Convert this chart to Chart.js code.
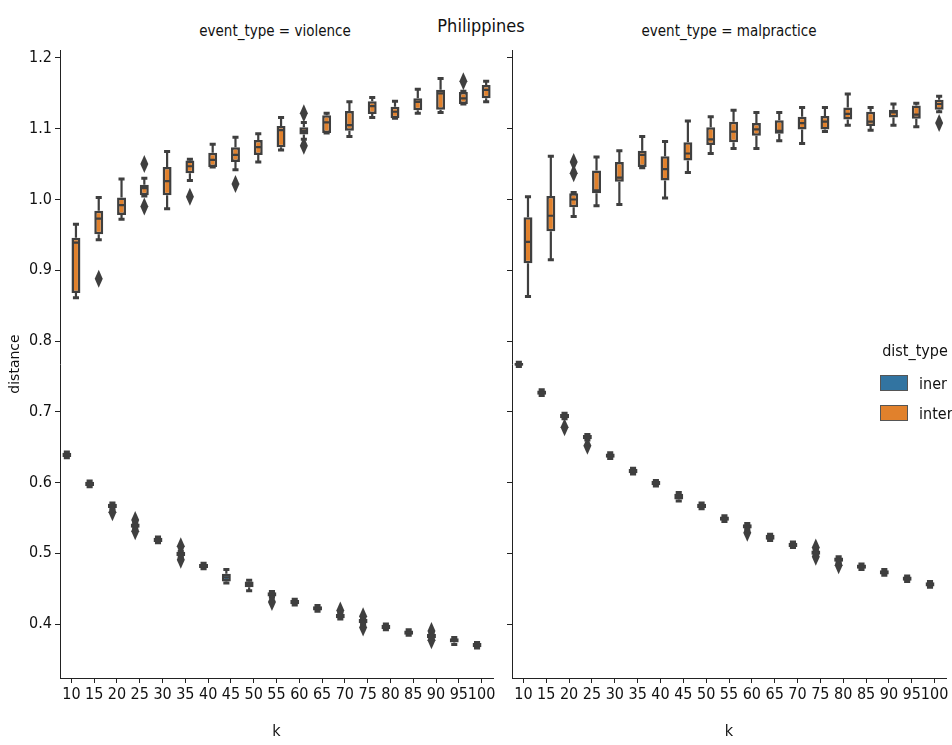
<!DOCTYPE html>
<html lang="en">
<head>
<meta charset="UTF-8">
<title>Philippines</title>
<script src="https://cdn.jsdelivr.net/npm/chart.js"></script>
<style>
  body {
    margin: 0;
    background: #fff;
    width: 952px;
    height: 745px;
    position: relative;
    overflow: hidden;
    font-family: "DejaVu Sans Condensed", "DejaVu Sans", sans-serif;
    color: #111;
  }
  canvas { position: absolute; top: 0; }
  #leftChart { left: 0; }
  #rightChart { left: 500px; }
  .txt { position: absolute; white-space: nowrap; transform: translate(-50%, -50%); }
  .patch { position: absolute; width: 26px; height: 14px; border: 1px solid #555; }
  .item { position: absolute; white-space: nowrap; transform: translateY(-50%); font-size: 16px; }
</style>
</head>
<body>
<div class="txt" style="left:481px; top:25px; font-size:18px;">Philippines</div>
<div class="txt" style="left:275px; top:31px; font-size:15px;">event_type = violence</div>
<div class="txt" style="left:729px; top:31px; font-size:15px;">event_type = malpractice</div>

<canvas id="leftChart" width="500" height="745"></canvas>
<canvas id="rightChart" width="452" height="745"></canvas>

<!-- legend -->
<div class="txt" style="left:915px; top:350px; font-size:16px;">dist_type</div>
<div class="patch" style="left:880px; top:375px; background:#3274a1;"></div>
<div class="item" style="left:919px; top:383px;">iner</div>
<div class="patch" style="left:880px; top:405px; background:#e1812c;"></div>
<div class="item" style="left:919px; top:413px;">inter</div>

<script>
// ---- data ----
const kLabels = ['10','15','20','25','30','35','40','45','50','55','60','65','70','75','80','85','90','95','100'];
const yTickValues = [0.4, 0.5, 0.6, 0.7, 0.8, 0.9, 1.0, 1.1, 1.2];

// violence, iner
const vInerLo  = [0.635,0.594,0.563,0.535,0.515,0.495,0.478,0.458,0.447,0.438,0.427,0.418,0.407,0.400,0.392,0.384,0.379,0.371,0.366];
const vInerQ1  = [0.636,0.595,0.564,0.536,0.516,0.496,0.479,0.460,0.452,0.439,0.428,0.419,0.408,0.401,0.393,0.385,0.380,0.374,0.367];
const vInerMed = [0.639,0.598,0.567,0.539,0.519,0.499,0.482,0.466,0.456,0.442,0.431,0.422,0.411,0.404,0.396,0.388,0.383,0.377,0.370];
const vInerQ3  = [0.642,0.601,0.570,0.542,0.522,0.502,0.485,0.471,0.460,0.445,0.434,0.425,0.414,0.407,0.399,0.391,0.386,0.380,0.373];
const vInerHi  = [0.643,0.602,0.571,0.543,0.523,0.503,0.486,0.477,0.462,0.446,0.435,0.426,0.415,0.408,0.400,0.392,0.387,0.381,0.374];
const vInerOut = [[],[],[0.558],[0.547,0.531],[],[0.510,0.491],[],[],[],[0.431],[],[],[0.419],[0.411,0.395],[],[],[0.390,0.377],[],[]];

// violence, inter
const vInterLo  = [0.861,0.943,0.972,1.005,0.987,1.027,1.046,1.042,1.053,1.070,1.085,1.094,1.089,1.116,1.115,1.122,1.123,1.135,1.138];
const vInterQ1  = [0.868,0.951,0.978,1.006,1.006,1.037,1.046,1.053,1.063,1.074,1.092,1.094,1.097,1.121,1.115,1.126,1.127,1.135,1.143];
const vInterMed = [0.939,0.973,0.992,1.016,1.026,1.047,1.056,1.063,1.074,1.098,1.097,1.109,1.105,1.132,1.124,1.138,1.150,1.143,1.155];
const vInterQ3  = [0.946,0.984,1.003,1.021,1.046,1.055,1.066,1.074,1.084,1.104,1.102,1.119,1.125,1.139,1.131,1.143,1.155,1.152,1.162];
const vInterHi  = [0.965,1.003,1.029,1.030,1.068,1.057,1.078,1.088,1.093,1.116,1.109,1.122,1.138,1.144,1.139,1.156,1.171,1.153,1.167];
const vInterOut = [[],[0.888],[],[1.050,0.990],[],[1.004],[],[1.022],[],[],[1.122,1.076],[],[],[],[],[],[],[1.167],[]];

// malpractice, iner
const mInerLo  = [0.764,0.723,0.690,0.660,0.634,0.612,0.595,0.574,0.563,0.545,0.534,0.518,0.508,0.497,0.487,0.477,0.469,0.460,0.452];
const mInerQ1  = [0.765,0.724,0.691,0.661,0.635,0.613,0.596,0.576,0.564,0.546,0.535,0.519,0.509,0.498,0.488,0.478,0.470,0.461,0.453];
const mInerMed = [0.767,0.727,0.694,0.664,0.638,0.616,0.599,0.580,0.567,0.549,0.538,0.522,0.512,0.501,0.491,0.481,0.473,0.464,0.456];
const mInerQ3  = [0.769,0.730,0.697,0.667,0.641,0.619,0.602,0.584,0.570,0.552,0.541,0.526,0.515,0.504,0.494,0.484,0.476,0.467,0.459];
const mInerHi  = [0.770,0.731,0.698,0.668,0.642,0.620,0.603,0.586,0.571,0.553,0.542,0.527,0.516,0.505,0.495,0.485,0.477,0.468,0.460];
const mInerOut = [[],[],[0.678],[0.652],[],[],[],[],[],[],[0.529],[],[],[0.508,0.495],[0.483],[],[],[],[]];

// malpractice, inter
const mInterLo  = [0.863,0.915,0.976,0.991,0.993,1.045,1.002,1.038,1.065,1.072,1.072,1.083,1.079,1.096,1.105,1.098,1.105,1.103,1.124];
const mInterQ1  = [0.910,0.955,0.989,1.009,1.025,1.046,1.027,1.055,1.077,1.081,1.090,1.093,1.099,1.099,1.113,1.104,1.116,1.114,1.127];
const mInterMed = [0.940,0.977,1.000,1.013,1.031,1.063,1.043,1.065,1.085,1.096,1.099,1.097,1.108,1.110,1.121,1.110,1.123,1.120,1.135];
const mInterQ3  = [0.975,1.005,1.009,1.041,1.053,1.069,1.061,1.081,1.102,1.110,1.108,1.112,1.117,1.118,1.130,1.124,1.127,1.133,1.141];
const mInterHi  = [1.004,1.061,1.010,1.060,1.069,1.089,1.082,1.111,1.117,1.126,1.123,1.123,1.130,1.130,1.149,1.130,1.135,1.136,1.146];
const mInterOut = [[],[],[1.053,1.037],[],[],[],[],[],[],[],[],[],[],[],[],[],[],[],[1.108]];

// ---- styling ----
const FONT = '"DejaVu Sans Condensed", "DejaVu Sans", sans-serif';
const LINE = '#3f3f3f';
const AXIS = '#222';
const BLUE = '#3274a1';
const ORANGE = '#e1812c';

function boxDataset(label, color, lo, q1, med, q3, hi, out) {
    return {
        label: label,
        data: q1.map((v, i) => [v, q3[i]]),
        backgroundColor: color,
        borderColor: LINE,
        borderWidth: 2.5,
        borderSkipped: false,
        categoryPercentage: 0.8,
        barPercentage: 0.98,
        lo: lo, med: med, hi: hi, out: out
    };
}

// draws whiskers, caps, medians and fliers on top of the bars
const boxParts = {
    id: 'boxParts',
    afterDatasetsDraw(chart) {
        const ctx = chart.ctx;
        const ys = chart.scales.y;
        const py = v => ys.getPixelForValue(v);
        ctx.save();
        ctx.strokeStyle = LINE;
        ctx.fillStyle = LINE;
        chart.data.datasets.forEach((ds, di) => {
            chart.getDatasetMeta(di).data.forEach((bar, i) => {
                const x = bar.x;
                const half = bar.width / 2;
                const cap = bar.width * 0.34;
                const yLo = py(ds.lo[i]), yHi = py(ds.hi[i]);
                const yQ1 = py(ds.data[i][0]), yQ3 = py(ds.data[i][1]);
                const yMed = py(ds.med[i]);

                ctx.lineWidth = 2.2;
                ctx.beginPath();
                ctx.moveTo(x, yQ3); ctx.lineTo(x, yHi);
                ctx.moveTo(x, yQ1); ctx.lineTo(x, yLo);
                ctx.moveTo(x - half + 1, yMed); ctx.lineTo(x + half - 1, yMed);
                ctx.stroke();

                ctx.lineWidth = 3;
                ctx.beginPath();
                ctx.moveTo(x - cap, yHi); ctx.lineTo(x + cap, yHi);
                ctx.moveTo(x - cap, yLo); ctx.lineTo(x + cap, yLo);
                ctx.stroke();

                ds.out[i].forEach(v => {
                    const yy = py(v);
                    ctx.beginPath();
                    ctx.moveTo(x, yy - 9);
                    ctx.lineTo(x + 4, yy);
                    ctx.lineTo(x, yy + 9);
                    ctx.lineTo(x - 4, yy);
                    ctx.closePath();
                    ctx.fill();
                });
            });
        });
        ctx.restore();
    }
};

function makeChart(id, datasets, showYLabels, yWidth, padRight) {
    return new Chart(document.getElementById(id), {
        type: 'bar',
        data: { labels: kLabels, datasets: datasets },
        options: {
            responsive: false,
            animation: false,
            layout: { padding: { left: 0, right: padRight, top: 50, bottom: 0 } },
            plugins: { legend: { display: false }, tooltip: { enabled: false }, title: { display: false } },
            scales: {
                x: {
                    type: 'category',
                    offset: true,
                    grid: { display: true, offset: false, drawOnChartArea: false, drawTicks: true,
                            tickLength: 5, tickColor: AXIS, tickWidth: 1 },
                    border: { display: true, color: AXIS, width: 1 },
                    ticks: { color: '#111', font: { family: FONT, size: 16 }, autoSkip: false,
                             maxRotation: 0, minRotation: 0, padding: 2 },
                    title: { display: true, text: 'k', color: '#111', font: { family: FONT, size: 16 },
                             padding: { top: 0, bottom: 4 } },
                    afterFit: s => { s.height = 67; }
                },
                y: {
                    type: 'linear',
                    min: 0.3237,
                    max: 1.2113,
                    afterBuildTicks: s => { s.ticks = yTickValues.map(v => ({ value: v })); },
                    grid: { display: true, drawOnChartArea: false, drawTicks: true,
                            tickLength: 5, tickColor: AXIS, tickWidth: 1 },
                    border: { display: true, color: AXIS, width: 1 },
                    ticks: { color: '#111', font: { family: FONT, size: 16 }, padding: 3,
                             callback: v => showYLabels ? Number(v).toFixed(1) : '' },
                    title: { display: showYLabels, text: 'distance', color: '#111',
                             font: { family: '"DejaVu Sans", sans-serif', size: 14 },
                             padding: { top: 7, bottom: 0 } },
                    afterFit: s => { s.width = yWidth; }
                }
            }
        },
        plugins: [boxParts]
    });
}

makeChart('leftChart', [
    boxDataset('iner', BLUE, vInerLo, vInerQ1, vInerMed, vInerQ3, vInerHi, vInerOut),
    boxDataset('inter', ORANGE, vInterLo, vInterQ1, vInterMed, vInterQ3, vInterHi, vInterOut)
], true, 60, 7);

makeChart('rightChart', [
    boxDataset('iner', BLUE, mInerLo, mInerQ1, mInerMed, mInerQ3, mInerHi, mInerOut),
    boxDataset('inter', ORANGE, mInterLo, mInterQ1, mInterMed, mInterQ3, mInterHi, mInterOut)
], false, 12, 6);
</script>
</body>
</html>
